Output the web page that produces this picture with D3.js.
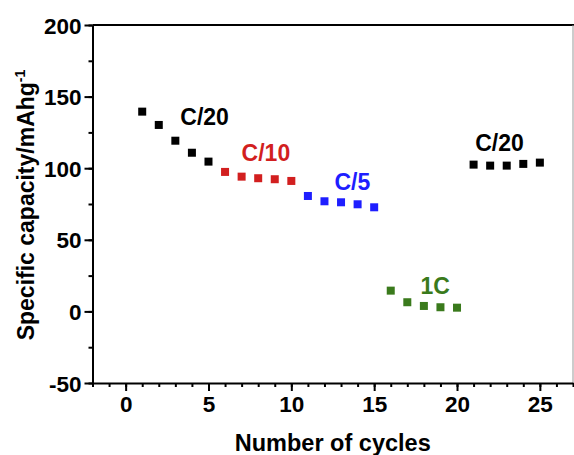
<!DOCTYPE html>
<html>
<head>
<meta charset="utf-8">
<script src="https://cdn.jsdelivr.net/npm/d3@7"></script>
<style>
  html, body { margin: 0; padding: 0; background: #fff; }
  svg { display: block; font-family: Arial, "Liberation Sans", sans-serif; font-weight: bold; }
</style>
</head>
<body>
<div id="chart"></div>
<script>
// cycle numbers and capacities (mAh/g), one group per C-rate
const cycles = [1, 2, 3, 4, 5, 6, 7, 8, 9, 10, 11, 12, 13, 14, 15, 16, 17, 18, 19, 20, 21, 22, 23, 24, 25];
const capacity = [139.5, 130.2, 119.2, 110.8, 104.6, 97.4, 94.1, 93.0, 92.3, 91.1, 80.6, 76.9, 76.2, 74.8, 72.7, 14.5, 6.4, 3.8, 2.9, 2.6, 102.5, 101.8, 101.8, 103.0, 103.9];
const rateOfCycle = ['C/20', 'C/20', 'C/20', 'C/20', 'C/20', 'C/10', 'C/10', 'C/10', 'C/10', 'C/10', 'C/5', 'C/5', 'C/5', 'C/5', 'C/5', '1C', '1C', '1C', '1C', '1C', 'C/20b', 'C/20b', 'C/20b', 'C/20b', 'C/20b'];

// label text, anchor position in data units
const labelText = ['C/20', 'C/10', 'C/5', '1C', 'C/20'];
const labelKey = ['C/20', 'C/10', 'C/5', '1C', 'C/20b'];
const labelX = [3.3, 7.0, 12.6, 17.8, 21.1];
const labelY = [130, 105, 85, 12.5, 112];

const xTicks = [0, 5, 10, 15, 20, 25];
const yTicks = [-50, 0, 50, 100, 150, 200];

const colors = { 'C/20': '#000000', 'C/10': '#d21f1f', 'C/5': '#1e1eff', '1C': '#3a7a1c', 'C/20b': '#000000' };

const W = 574, H = 455;
const plotL = 92.5, plotR = 573, plotT = 25, plotB = 383;

const svg = d3.select('#chart').append('svg')
  .attr('width', W)
  .attr('height', H);

const x = d3.scaleLinear().domain([-2, 27]).range([plotL, plotR]);
const y = d3.scaleLinear().domain([-50, 200]).range([plotB, plotT]);

// frame: top and right (thin grey right edge as in the picture)
svg.append('line')
  .attr('x1', plotL).attr('x2', plotR + 1).attr('y1', plotT).attr('y2', plotT)
  .attr('stroke', '#000').attr('stroke-width', 2);
svg.append('line')
  .attr('x1', plotR).attr('x2', plotR).attr('y1', plotT).attr('y2', plotB)
  .attr('stroke', '#999').attr('stroke-width', 1);

// minor ticks
svg.append('g')
  .attr('transform', 'translate(0,' + plotB + ')')
  .call(d3.axisBottom(x).tickValues(d3.range(-2, 28, 1)).tickSize(4).tickFormat(''))
  .call(g => g.select('.domain').remove())
  .selectAll('line').attr('stroke-width', 2);
svg.append('g')
  .attr('transform', 'translate(' + plotL + ',0)')
  .call(d3.axisLeft(y).tickValues(d3.range(-50, 201, 25)).tickSize(4).tickFormat(''))
  .call(g => g.select('.domain').remove())
  .selectAll('line').attr('stroke-width', 2);

// major axes
const xAxis = svg.append('g')
  .attr('transform', 'translate(0,' + plotB + ')')
  .call(d3.axisBottom(x).tickValues(xTicks).tickSize(8).tickSizeOuter(0).tickPadding(5)
    .tickFormat(function(d) { return String(d); }));
const yAxis = svg.append('g')
  .attr('transform', 'translate(' + plotL + ',0)')
  .call(d3.axisLeft(y).tickValues(yTicks).tickSize(8).tickSizeOuter(0).tickPadding(3)
    .tickFormat(function(d) { return String(d); }));

[xAxis, yAxis].forEach(function(a) {
  a.select('.domain').attr('stroke-width', 2);
  a.selectAll('.tick line').attr('stroke-width', 2);
  a.selectAll('.tick text')
    .attr('fill', '#000')
    .style('font-size', '22.5px')
    .style('font-weight', 'bold')
    .style('font-family', 'Arial, "Liberation Sans", sans-serif');
});
yAxis.selectAll('.tick text').attr('dy', '0.36em');

// axis titles
svg.append('text')
  .attr('x', (x(0) + x(25)) / 2).attr('y', 451)
  .attr('text-anchor', 'middle')
  .style('font-size', '23.5px')
  .text('Number of cycles');

const yt = svg.append('text')
  .attr('transform', 'translate(34,' + ((plotT + plotB) / 2 + 1) + ') rotate(-90)')
  .attr('text-anchor', 'middle')
  .style('font-size', '23px');
yt.append('tspan').text('Specific capacity/mAhg');
yt.append('tspan').attr('dy', -9).style('font-size', '14px').text('-1');

// data squares
const pts = cycles.map(function(c, i) { return { c: c, v: capacity[i], r: rateOfCycle[i] }; });
const s = 8;
svg.selectAll('.pt')
  .data(pts)
  .enter()
  .append('rect')
    .attr('class', 'pt')
    .attr('x', function(d) { return x(d.c) - s / 2; })
    .attr('y', function(d) { return y(d.v) - s / 2; })
    .attr('width', s)
    .attr('height', s)
    .attr('fill', function(d) { return colors[d.r]; });

// rate labels
svg.selectAll('.lbl')
  .data(labelText)
  .enter()
  .append('text')
    .attr('class', 'lbl')
    .attr('x', function(d, i) { return x(labelX[i]); })
    .attr('y', function(d, i) { return y(labelY[i]); })
    .attr('fill', function(d, i) { return colors[labelKey[i]]; })
    .style('font-size', '23px')
    .text(function(d) { return d; });
</script>
</body>
</html>
